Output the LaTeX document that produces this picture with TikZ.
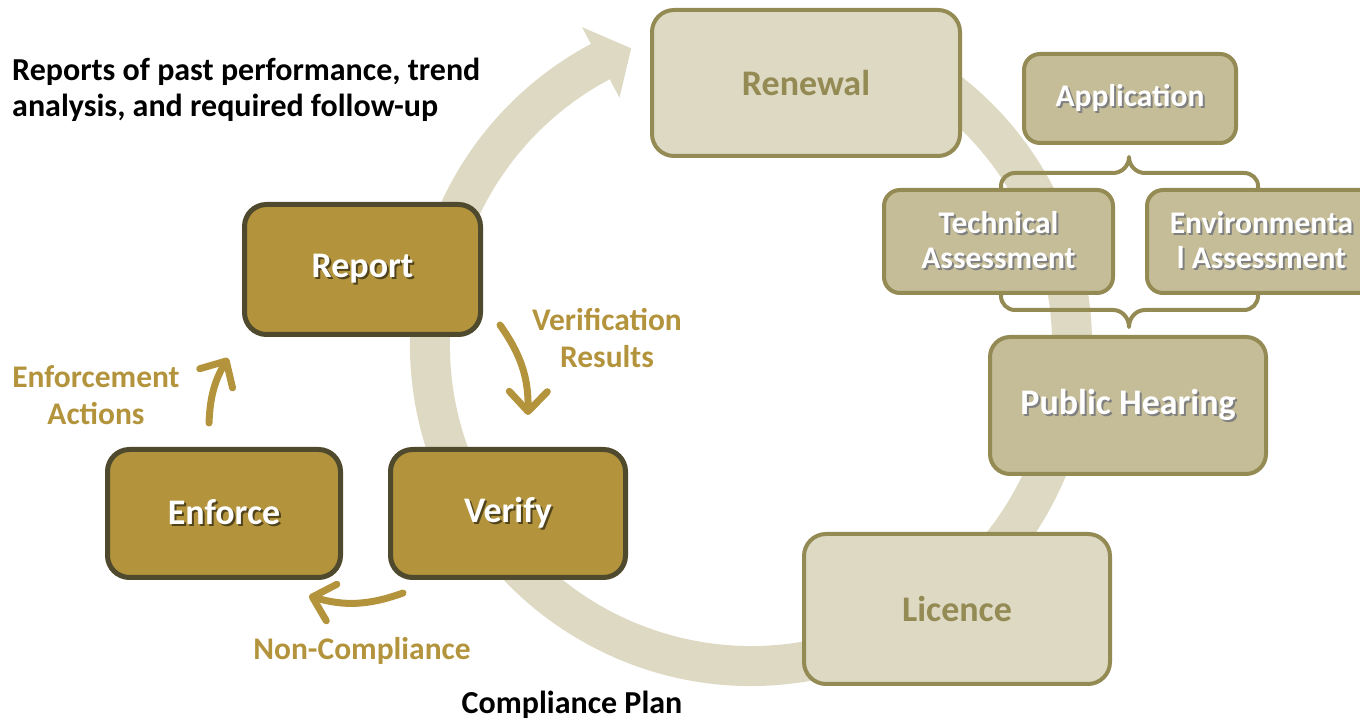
\documentclass[tikz,border=0pt]{standalone}
\usepackage{fontspec}
\setmainfont{Carlito}
\usetikzlibrary{arrows.meta}

\definecolor{ringc}{HTML}{DDD9C3}
\definecolor{lightfill}{HTML}{DDD9C3}
\definecolor{midfill}{HTML}{C4BD97}
\definecolor{olive}{HTML}{948A54}
\definecolor{gold}{HTML}{B3943C}
\definecolor{darkedge}{HTML}{4F4A2D}

% white label with a soft dark drop shadow
\newcommand\shd[2][black!50]{\leavevmode\rlap{\kern2pt\raisebox{-2pt}{\color{#1}#2}}#2}

\tikzset{
  lightbox/.style={draw=olive, fill=lightfill, line width=4pt, rounded corners=22pt,
    text=olive, inner sep=0pt, font=\bfseries\fontsize{36}{40}\selectfont},
  midbox/.style={draw=olive, fill=midfill, line width=4pt, rounded corners=16pt,
    text=white, inner sep=0pt, align=center, font=\bfseries\fontsize{31.5}{35}\selectfont},
  goldbox/.style={draw=darkedge, fill=gold, line width=5pt, rounded corners=22pt,
    text=white, inner sep=0pt, font=\bfseries\fontsize{36}{40}\selectfont},
  goldlabel/.style={text=gold, inner sep=0pt, align=center,
    font=\bfseries\fontsize{31.5}{37}\selectfont},
  blacklabel/.style={text=black, inner sep=0pt, font=\bfseries\fontsize{32}{36}\selectfont},
  flowarrow/.style={draw=gold, line width=7pt, line cap=round,
    -{Straight Barb[length=20pt,width=38pt,round]}},
  brace/.style={draw=olive, line width=4pt, line join=round, line cap=round},
}

\begin{document}
\begin{tikzpicture}[x=1pt,y=1pt]
\useasboundingbox (0,0) rectangle (1360,720);

% large circular process arrow
\begin{scope}[shift={(751,375)}]
  \fill[ringc] (62:341) arc[start angle=62, end angle=-242, radius=341]
    -- (-242:360) -- (-248:320) -- (-242:280) -- (-242:301)
    arc[start angle=-242, end angle=62, radius=301] -- cycle;
\end{scope}

% braces linking the assessments
\draw[brace] (1001,528) -- (1001,534) to[out=90,in=180] (1015,547) -- (1113,547)
  to[out=0,in=-90] (1129,563) to[out=-90,in=180] (1145,547) -- (1244,547)
  to[out=0,in=90] (1258,534) -- (1258,528);
\draw[brace] (1001,432) -- (1001,424) to[out=-90,in=180] (1015,410) -- (1113,410)
  to[out=0,in=90] (1129,393) to[out=90,in=180] (1145,410) -- (1244,410)
  to[out=0,in=-90] (1258,424) -- (1258,432);

% licensing cycle
\node[lightbox, minimum width=308, minimum height=146] (renewal) at (806,637) {Renewal};
\node[midbox, minimum width=212, minimum height=89] (application) at (1130,621.5) {\shd{Application}};
\node[midbox, minimum width=229, minimum height=103] (technical) at (998.5,478.5)
  {\shd{Technical}\\\shd{Assessment}};
\node[midbox, minimum width=229, minimum height=103] (environmental) at (1261.5,478.5)
  {\shd{Environmenta}\\\shd{l Assessment}};
\node[midbox, minimum width=276, minimum height=137, rounded corners=20pt,
  font=\bfseries\fontsize{36}{40}\selectfont] (hearing) at (1128,314.5) {\shd{Public Hearing}};
\node[lightbox, minimum width=306, minimum height=150] (licence) at (957,111) {Licence};

% compliance loop
\node[goldbox, minimum width=236, minimum height=130] (report) at (362.5,450.5)
  {\shd[gold!45!black]{Report}};
\node[goldbox, minimum width=233, minimum height=128] (enforce) at (224,206.5)
  {\shd[gold!45!black]{Enforce}};
\node[goldbox, minimum width=235, minimum height=128] (verify) at (508,206.5)
  {\shd[gold!45!black]{Verify}};

\coordinate (vr-a) at (500,395);
\coordinate (vr-b) at (528,305);
\coordinate (nc-a) at (403,127);
\coordinate (nc-b) at (309,124);
\coordinate (ea-a) at (209,297);
\coordinate (ea-b) at (228,362);
\draw[flowarrow] (vr-a) to[bend left=18] (vr-b);
\draw[flowarrow] (nc-a) to[bend left=18] (nc-b);
\draw[flowarrow] (ea-a) to[bend left=14] (ea-b);

\node[goldlabel] (verification) at (607,382) {Verification\\Results};
\node[goldlabel] (enforcement) at (96,325) {Enforcement\\Actions};
\node[goldlabel] (noncompliance) at (362,69) {Non-Compliance};

\node[blacklabel] (plan) at (572,15) {Compliance Plan};
\node[blacklabel, anchor=west, align=left] (notes) at (12,630)
  {Reports of past performance, trend\\analysis, and required follow-up};
\end{tikzpicture}
\end{document}
